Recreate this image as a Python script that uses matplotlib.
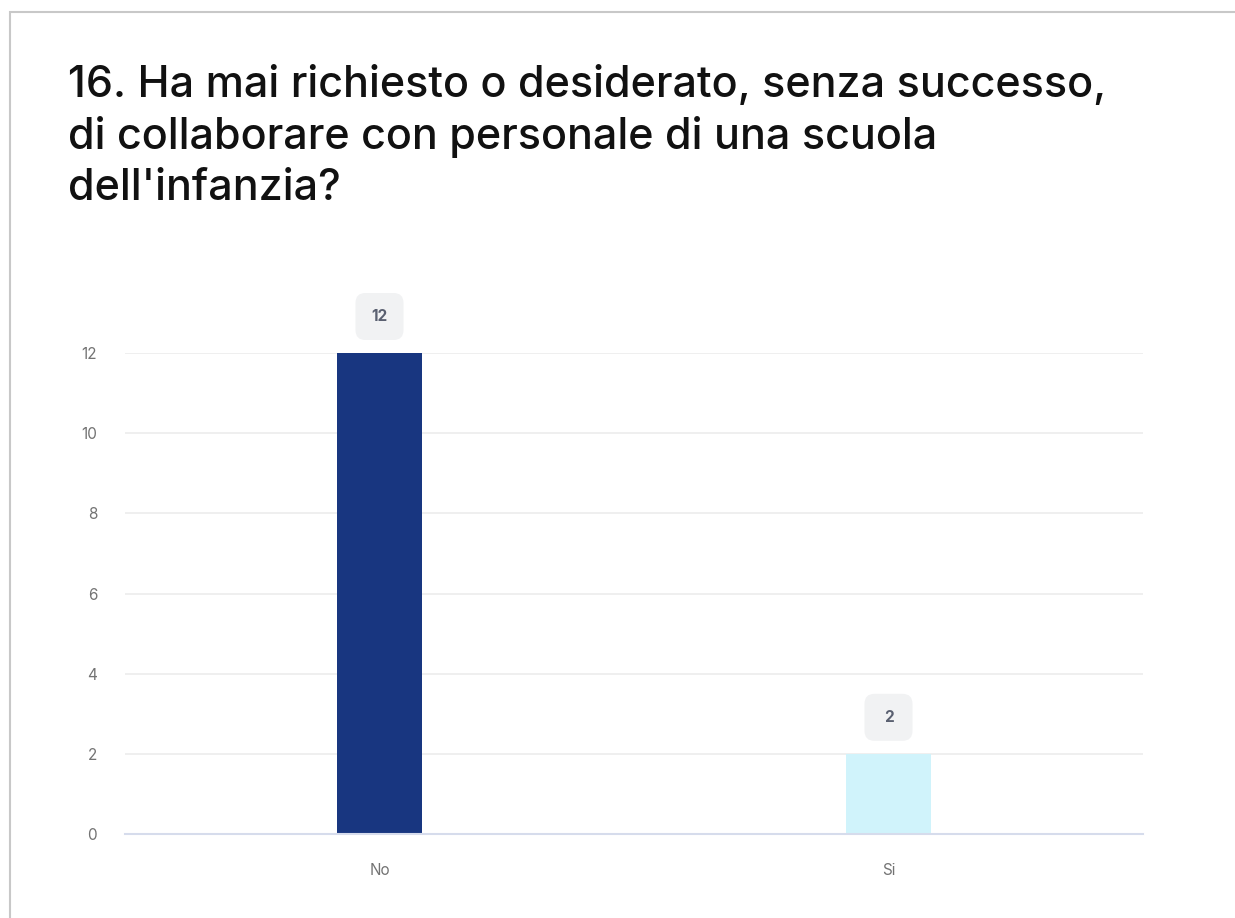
import matplotlib.pyplot as plt
from matplotlib.patches import FancyBboxPatch, Rectangle

# survey answers
categories = ["No", "Si"]
counts = [12, 2]
bar_colors = ["#183680", "#d0f3fb"]
y_ticks = [0, 2, 4, 6, 8, 10, 12]
title = ("16. Ha mai richiesto o desiderato, senza successo,\n"
         "di collaborare con personale di una scuola\n"
         "dell'infanzia?")

plt.rcParams['font.family'] = ['Inter', 'DejaVu Sans']

fig = plt.figure(figsize=(12.35, 9.18), dpi=100)
fig.patch.set_facecolor("white")

# card outline behind everything
fig.patches.append(Rectangle((10 / 1235, -0.01), 1.1, 1 - 12 / 918 + 0.01,
                             transform=fig.transFigure, facecolor="white",
                             edgecolor="#c8c8c8", linewidth=1.5, zorder=-5))

fig.text(68 / 1235, 1 - 65 / 918, title, fontsize=31, fontweight="medium",
         color="#111111", ha="left", va="top", linespacing=1.3)

ax = fig.add_axes([125 / 1235, 1 - 834 / 918, 1018 / 1235, 481 / 918])
ax.set_facecolor("none")
ax.set_zorder(2)

x = list(range(len(categories)))
ax.bar(x, counts, width=0.167, color=bar_colors, zorder=3)

ax.set_xlim(-0.5, 1.5)
ax.set_ylim(0, 12)
ax.set_yticks(y_ticks)
ax.set_xticks(x)
ax.set_xticklabels(categories)
ax.tick_params(axis="both", length=0, colors="#737373", labelsize=11)
ax.tick_params(axis="y", pad=20)
ax.tick_params(axis="x", pad=21)
ax.yaxis.grid(True, color="#ececec", linewidth=1.2, zorder=0)
for side in ["top", "right", "left"]:
    ax.spines[side].set_visible(False)
ax.spines["bottom"].set_color("#d6dcec")
ax.spines["bottom"].set_linewidth(1.5)
ax.spines["bottom"].set_zorder(4)

# value badges above each bar
for xi, v in zip(x, counts):
    disp = ax.transData.transform((xi, v))
    cx, top = disp[0] / fig.dpi / 12.35, disp[1] / fig.dpi / 9.18
    w, h = 48 / 1235, 47 / 918
    gap = 13 / 918
    fig.patches.append(FancyBboxPatch((cx - w / 2, top + gap), w, h,
                                      boxstyle="round,pad=0,rounding_size=0.008",
                                      transform=fig.transFigure,
                                      facecolor="#f1f2f3", edgecolor="none",
                                      mutation_aspect=1.35))
    fig.text(cx, top + gap + h / 2, str(v), ha="center", va="center",
             fontsize=11, fontweight="bold", color="#5a6070")

fig.savefig("out.png", dpi=100)
